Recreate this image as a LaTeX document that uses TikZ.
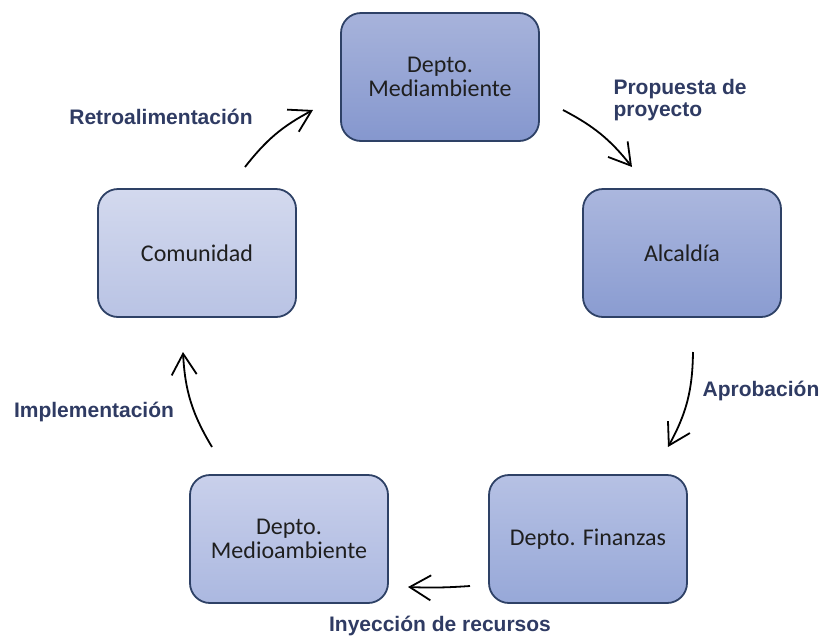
\documentclass[tikz,border=0pt]{standalone}
\usepackage{fontspec}
\setmainfont{Carlito}
\newfontfamily\lblfont{Liberation Sans}
\usetikzlibrary{arrows.meta}

\definecolor{boxline}{HTML}{2E4166}
\definecolor{lbltext}{HTML}{2F3B63}

\tikzset{
    caja/.style={draw=boxline, line width=1.8pt, rounded corners=20pt,
        minimum width=198pt, minimum height=128pt, align=center,
        text=black!88, font=\fontsize{24}{24}\selectfont},
    flecha/.style={line width=1.8pt, -{Straight Barb[length=21pt,width=25pt]}},
    etiqueta/.style={text=lbltext, font=\lblfont\bfseries\fontsize{21}{22}\selectfont}
}

\begin{document}
\begin{tikzpicture}[x=1pt,y=-1pt]
                \useasboundingbox (0,0) rectangle (825,638);
                % cajas
                \node[caja, top color={rgb,255:red,167;green,179;blue,219}, bottom color={rgb,255:red,133;green,151;blue,206}] (mediamb) at (440,77) {Depto.\\Mediambiente};
                \node[caja, top color={rgb,255:red,171;green,183;blue,222}, bottom color={rgb,255:red,138;green,156;blue,209}] (alcaldia) at (682,253) {Alcaldía};
                \node[caja, top color={rgb,255:red,182;green,193;blue,228}, bottom color={rgb,255:red,151;green,168;blue,216}] (finanzas) at (588,539) {Depto. Finanzas};
                \node[caja, top color={rgb,255:red,201;green,208;blue,235}, bottom color={rgb,255:red,171;green,184;blue,224}] (medioamb) at (289,539) {Depto.\\Medioambiente};
                \node[caja, top color={rgb,255:red,211;green,217;blue,238}, bottom color={rgb,255:red,185;green,195;blue,228}] (comunidad) at (197,253) {Comunidad};

                % extremos de las flechas
                \coordinate (p1) at (563,110);  \coordinate (p2) at (632,167);
                \coordinate (a1) at (693,352);  \coordinate (a2) at (668,447);
                \coordinate (i1) at (470,586);  \coordinate (i2) at (408,587);
                \coordinate (m1) at (212,447);  \coordinate (m2) at (183,352);
                \coordinate (r1) at (245,167);  \coordinate (r2) at (313,110);

                \draw[flecha] (p1) to[bend left=12] (p2);
                \draw[flecha] (a1) to[bend left=14] (a2);
                \draw[flecha] (i1) to[bend left=3] (i2);
                \draw[flecha] (m1) to[bend left=14] (m2);
                \draw[flecha] (r1) to[bend left=12] (r2);

                % etiquetas
                \node[etiqueta, anchor=west, align=left] (propuesta) at (610,100) {Propuesta de\\proyecto};
                \node[etiqueta] (aprobacion) at (761,391) {Aprobación};
                \node[etiqueta] (inyeccion) at (440,626) {Inyección de recursos};
                \node[etiqueta] (implementacion) at (94,412) {Implementación};
                \node[etiqueta] (retro) at (161,117) {Retroalimentación};
            \end{tikzpicture}
\end{document}
